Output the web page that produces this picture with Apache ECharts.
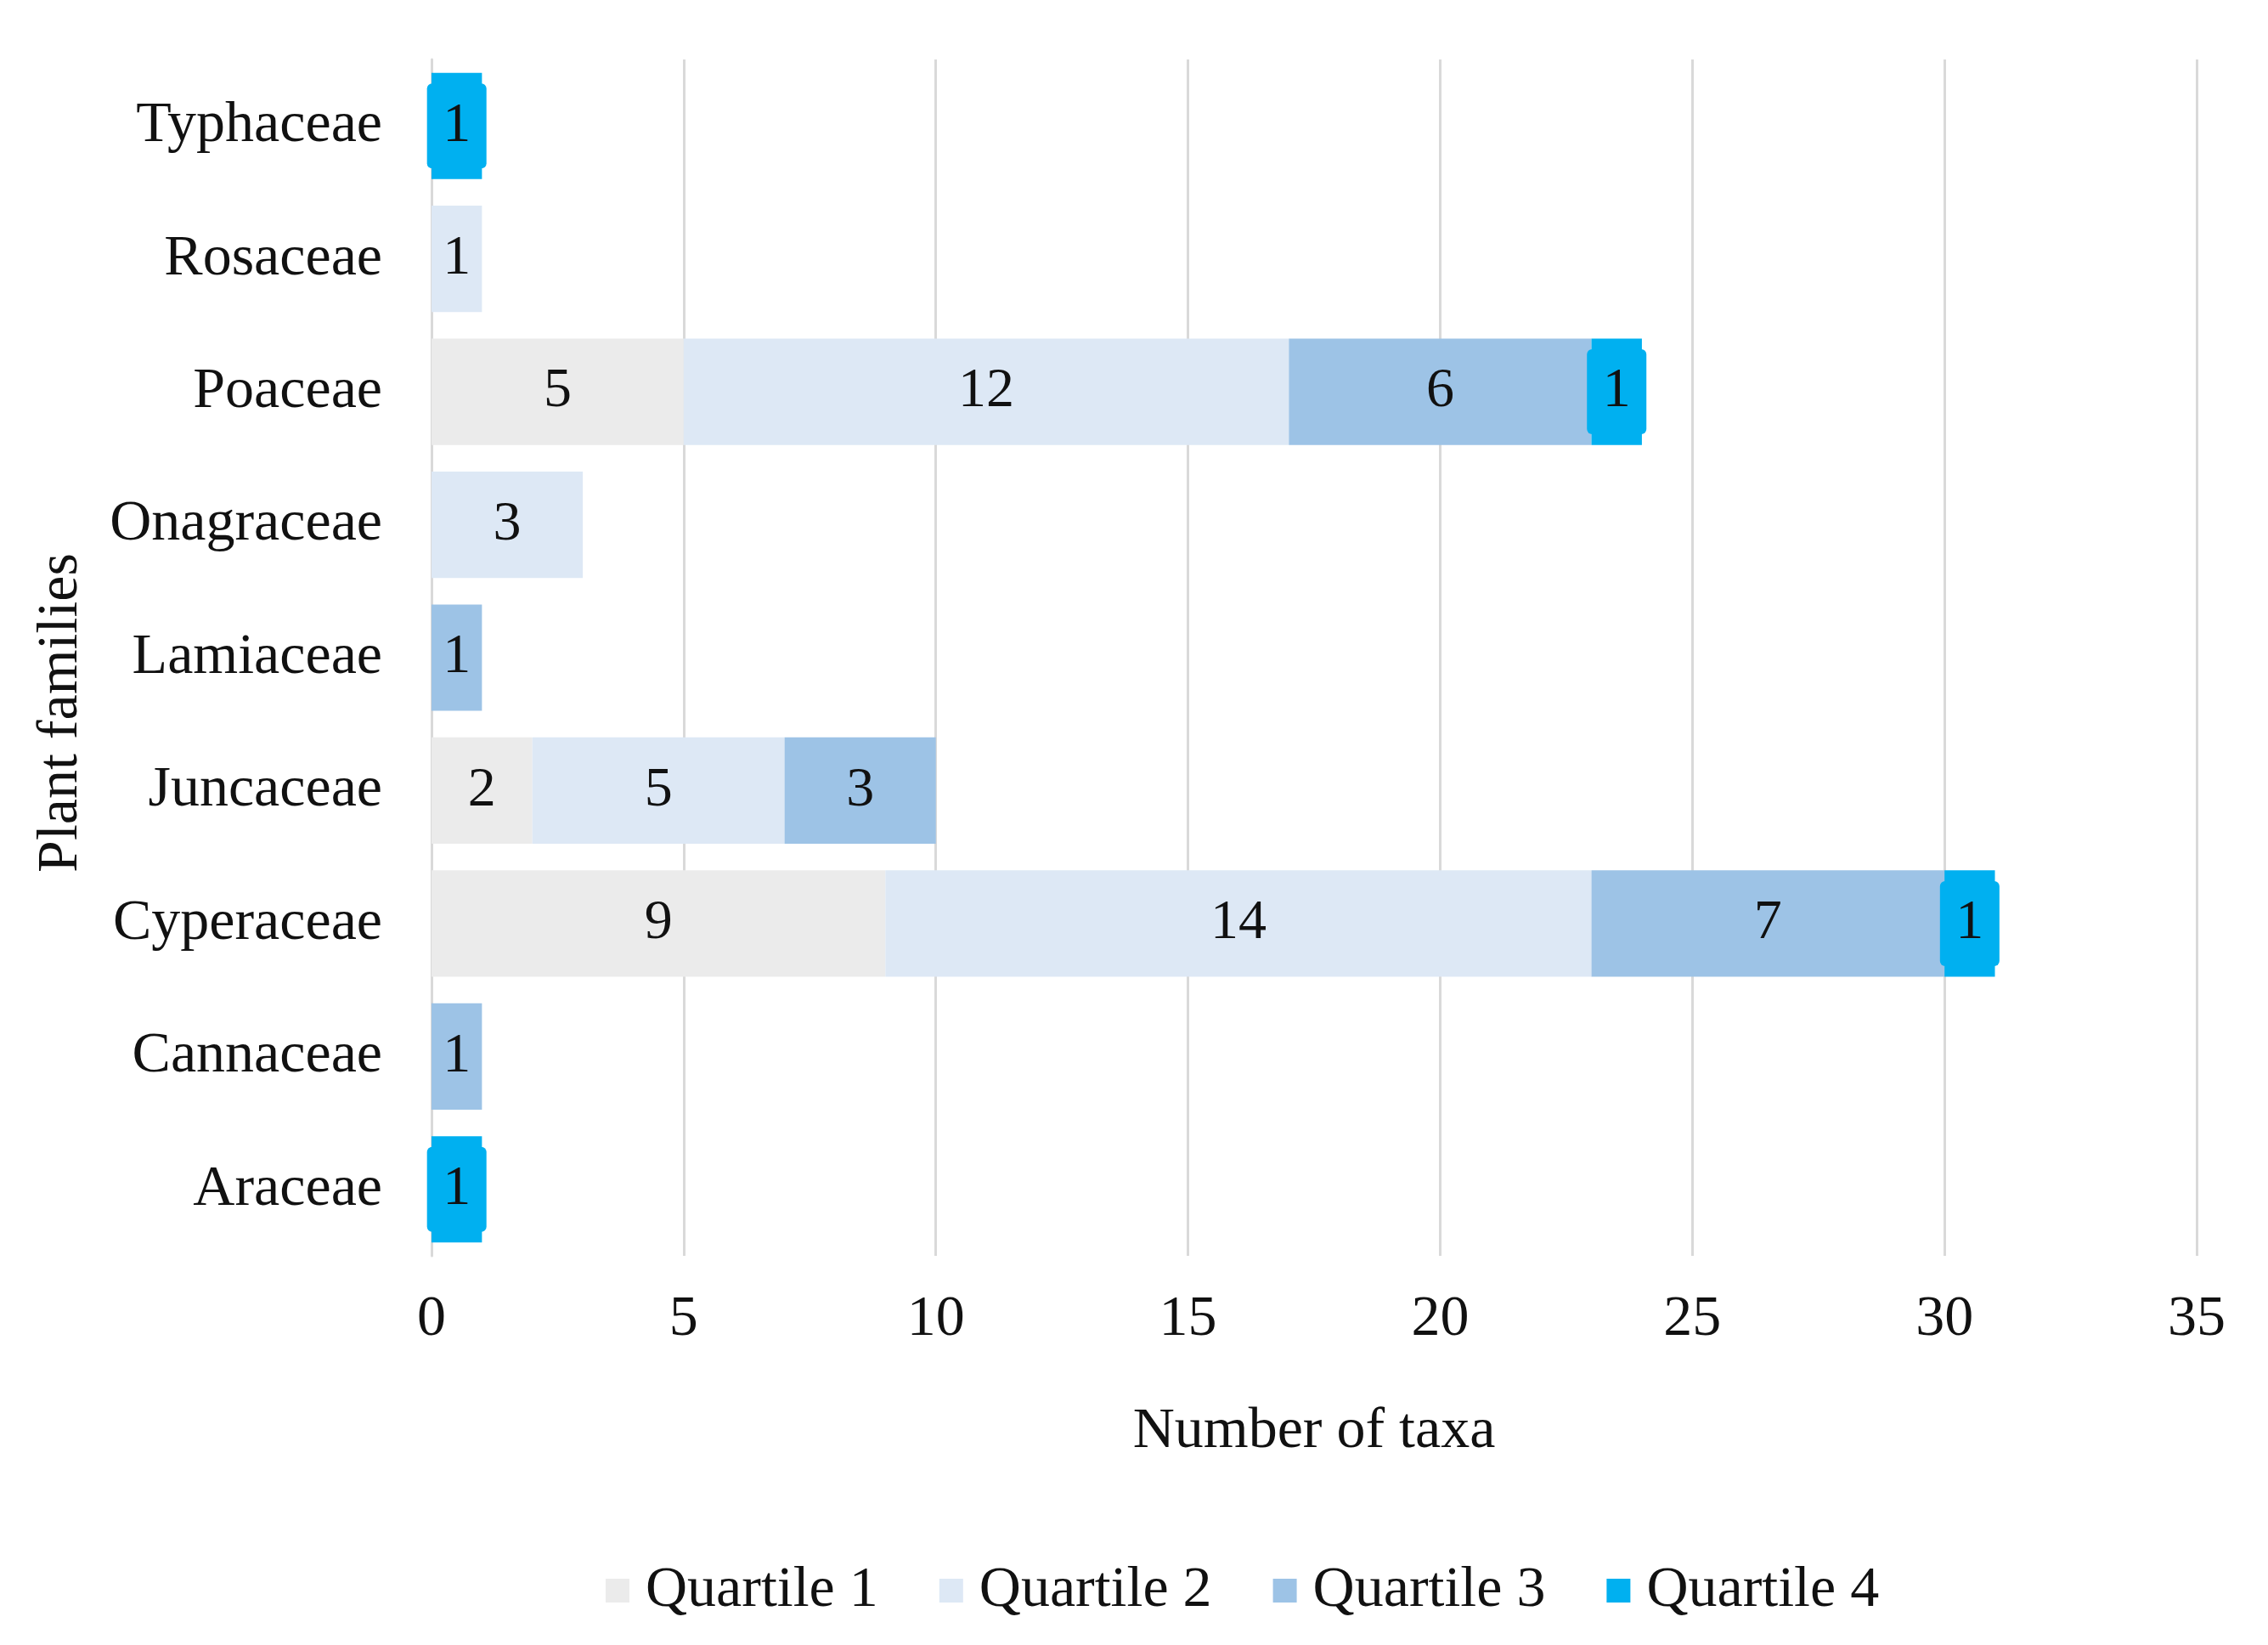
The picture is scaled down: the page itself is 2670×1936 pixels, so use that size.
<!DOCTYPE html>
<html>
<head>
<meta charset="utf-8">
<script src="https://cdn.jsdelivr.net/npm/echarts@6/dist/echarts.min.js"></script>
<style>
html,body{margin:0;padding:0;background:#fff;}
#chart{width:2670px;height:1936px;}
</style>
</head>
<body>
<div id="chart"></div>
<script>
const categories = ['Araceae','Cannaceae','Cyperaceae','Juncaceae','Lamiaceae','Onagraceae','Poaceae','Rosaceae','Typhaceae'];
const quartile1 = [null, null, 9, 2, null, null, 5, null, null];
const quartile2 = [null, null, 14, 5, null, 3, 12, 1, null];
const quartile3 = [null, 1, 7, 3, 1, null, 6, null, null];
const quartile4 = [1, null, 1, null, null, null, 1, null, 1];
const seriesNames = ['Quartile 1','Quartile 2','Quartile 3','Quartile 4'];
const xTicks = [0, 5, 10, 15, 20, 25, 30, 35];

const FONT = 'Liberation Serif';
const colors = ['#EBEBEB', '#DDE8F5', '#9DC3E6', '#00B0F0'];
const dataSets = [quartile1, quartile2, quartile3, quartile4];

const chart = echarts.init(document.getElementById('chart'), null, {renderer: 'canvas'});

const series = dataSets.map((d, i) => {
  const s = {
    name: seriesNames[i],
    type: 'bar',
    stack: 'total',
    data: d,
    barCategoryGap: '20%',
    itemStyle: {color: colors[i]},
    label: {
      show: true,
      position: 'inside',
      fontFamily: FONT,
      fontSize: 66,
      color: '#111'
    }
  };
  if (i === 3) {
    s.label.backgroundColor = '#00B0F0';
    s.label.width = 58;
    s.label.height = 100;
    s.label.lineHeight = 100;
    s.label.align = 'center';
    s.label.padding = [0, 6];
    s.label.borderRadius = 6;
  }
  return s;
});

const option = {
  backgroundColor: '#fff',
  animation: false,
  textStyle: {fontFamily: FONT},
  grid: {left: 508, right: 84, top: 70, bottom: 458, containLabel: false},
  legend: {
    data: seriesNames,
    left: 708,
    top: 1833,
    icon: 'rect',
    itemWidth: 28,
    itemHeight: 28,
    itemGap: 72,
    textStyle: {fontFamily: FONT, fontSize: 68, color: '#111', padding: [0,0,0,14]}
  },
  xAxis: {
    type: 'value',
    min: xTicks[0],
    max: xTicks[xTicks.length - 1],
    interval: 5,
    name: 'Number of taxa',
    nameLocation: 'middle',
    nameGap: 173,
    nameTextStyle: {fontFamily: FONT, fontSize: 68, color: '#111'},
    axisLine: {show: false},
    axisTick: {show: false},
    axisLabel: {fontFamily: FONT, fontSize: 68, color: '#111', margin: 41},
    splitLine: {show: true, lineStyle: {color: '#D9D9D9', width: 3}}
  },
  yAxis: {
    type: 'category',
    data: categories,
    axisLine: {show: true, lineStyle: {color: '#D9D9D9', width: 3}},
    axisTick: {show: false},
    axisLabel: {fontFamily: FONT, fontSize: 68, color: '#111', margin: 58},
    splitLine: {show: false}
  },
  graphic: [{
    type: 'text',
    x: 72,
    y: 839,
    rotation: Math.PI / 2,
    style: {
      text: 'Plant families',
      fontFamily: FONT,
      fontSize: 68,
      fill: '#111',
      align: 'center',
      verticalAlign: 'middle'
    }
  }],
  series: series
};

chart.setOption(option);
</script>
</body>
</html>
